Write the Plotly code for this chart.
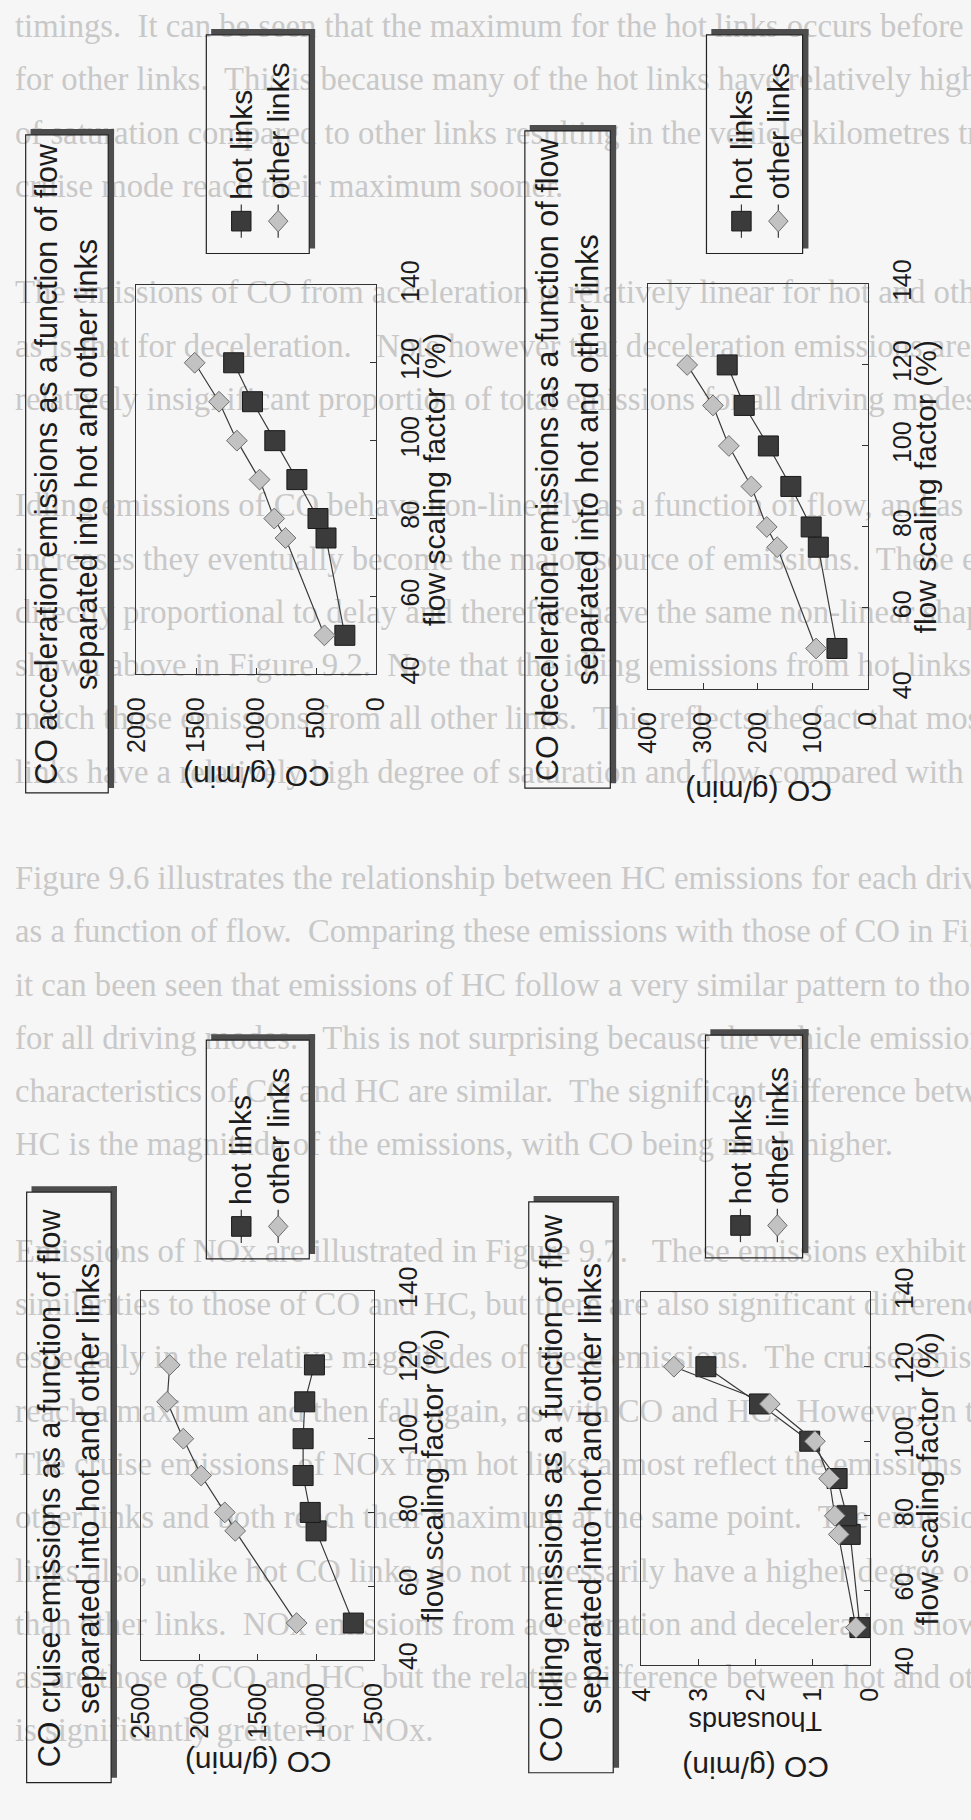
import plotly.graph_objects as go

W, H = 971, 1820

# ---------------- data ----------------
flow = [50, 75, 80, 90, 100, 110, 120]           # flow scaling factor (%)

accel_hot = [262, 419, 486, 662, 846, 1032, 1189]
accel_other = [432, 757, 851, 973, 1162, 1311, 1514]

decel_hot = [56, 90, 103, 140, 181, 225, 256]
decel_other = [94, 165, 184, 212, 253, 282, 329]

cruise_hot = [680, 1000, 1050, 1111, 1111, 1097, 1014]
cruise_other = [1167, 1694, 1783, 1986, 2139, 2278, 2256]

idle_hot = [0.17, 0.34, 0.40, 0.57, 1.05, 1.93, 2.87]      # thousands g/min
idle_other = [0.24, 0.54, 0.61, 0.71, 0.96, 1.75, 3.43]

flow_ticks = [40, 60, 80, 100, 120, 140]
accel_ticks = [0, 500, 1000, 1500, 2000]
decel_ticks = [0, 100, 200, 300, 400]
cruise_ticks = [500, 1000, 1500, 2000, 2500]
idle_ticks = [0, 1, 2, 3, 4]

series_names = ["hot links", "other links"]
subtitle = "separated into hot and other links"

page_lines = [
    "timings.  It can be seen that the maximum for the hot links occurs before that",
    "for other links.  This is because many of the hot links have relatively high degrees",
    "of saturation compared to other links resulting in the vehicle kilometres travelled in",
    "cruise mode reach their maximum sooner.",
    "",
    "The emissions of CO from acceleration is relatively linear for hot and other links,",
    "as is that for deceleration.   Note however that deceleration emissions are a",
    "relatively insignificant proportion of total emissions for all driving modes.",
    "",
    "Idling emissions of CO behave non-linearly as a function of flow, and as flow",
    "increases they eventually become the major source of emissions.  These emissions are",
    "directly proportional to delay and therefore have the same non-linear shape as",
    "shown above in Figure 9.2.  Note that the idling emissions from hot links",
    "match those emissions from all other links.  This reflects the fact that most hot",
    "links have a relatively high degree of saturation and flow compared with other links.",
    "",
    "Figure 9.6 illustrates the relationship between HC emissions for each driving mode",
    "as a function of flow.  Comparing these emissions with those of CO in Figure 9.5",
    "it can been seen that emissions of HC follow a very similar pattern to those of CO",
    "for all driving modes.   This is not surprising because the vehicle emission",
    "characteristics of CO and HC are similar.  The significant difference between CO and",
    "HC is the magnitude of the emissions, with CO being much higher.",
    "",
    "Emissions of NOx are illustrated in Figure 9.7.   These emissions exhibit some",
    "similarities to those of CO and HC, but there are also significant differences,",
    "especially in the relative magnitudes of these emissions.  The cruise emissions do",
    "reach a maximum and then fall again, as with CO and HC.  However, in this case",
    "The cruise emissions of NOx from hot links almost reflect the emissions from",
    "other links and both reach their maximum at the same point.  The emissions from hot",
    "links also, unlike hot CO links, do not necessarily have a higher degree of magnitude",
    "than other links.  NOx emissions from acceleration and deceleration show similar trends",
    "as are those of CO and HC, but the relative difference between hot and other links",
    "is significantly greater for NOx.",
]

# ---------------- layout constants (pixels) ----------------
LINE_Y0, LINE_STEP = 4, 54.3
FONT = "Liberation Sans"
INK = "#1c1c1c"

panels = [
    dict(mode="acceleration", hot=accel_hot, other=accel_other, ticks=accel_ticks,
         rng=[2000, 0], plot=(125, 265, 372, 662), tbox=(11, 112, 96, 783),
         lbox=(197, 10, 303, 233), thousands=False),
    dict(mode="deceleration", hot=decel_hot, other=decel_other, ticks=decel_ticks,
         rng=[400, 0], plot=(652, 264, 878, 677), tbox=(525, 108, 613, 778),
         lbox=(712, 10, 811, 233), thousands=False),
    dict(mode="cruise", hot=cruise_hot, other=cruise_other, ticks=cruise_ticks,
         rng=[2500, 500], plot=(130, 1291, 370, 1667), tbox=(12, 1190, 99, 1792),
         lbox=(197, 1035, 303, 1258), thousands=False),
    dict(mode="idling", hot=idle_hot, other=idle_other, ticks=idle_ticks,
         rng=[4, 0], plot=(645, 1292, 880, 1672), tbox=(529, 1200, 616, 1782),
         lbox=(711, 1030, 811, 1257), thousands=True),
]


def fx(x):
    return x / W


def fy(y):
    return 1 - y / H


fig = go.Figure()

# faint page text behind the charts (drawn in a full-page subplot, first layer)
fig.add_trace(go.Scatter(
    x=[0] * len(page_lines),
    y=[LINE_Y0 + i * LINE_STEP for i in range(len(page_lines))],
    text=page_lines, mode="text", textposition="middle right",
    textfont=dict(family="Liberation Serif", size=32.7, color="#c8c8c8"),
    hoverinfo="skip", showlegend=False, xaxis="x", yaxis="y", cliponaxis=False))

layout = dict(
    width=W, height=H, margin=dict(l=0, r=0, t=0, b=0),
    paper_bgcolor="#f6f6f6", plot_bgcolor="rgba(0,0,0,0)", showlegend=False,
    xaxis=dict(domain=[0, 1], range=[0, W], visible=False, fixedrange=True),
    yaxis=dict(domain=[0, 1], range=[H, 0], visible=False, fixedrange=True),
)

annotations = []
shapes = []

hot_style = dict(symbol="square", size=20, color="#3b3b3b", line=dict(color="#1a1a1a", width=1))
oth_style = dict(symbol="diamond", size=16, color="#c2c2c2", line=dict(color="#6e6e6e", width=1))

for i, p in enumerate(panels):
    n = i + 2
    x0, y0, x1, y1 = p["plot"]
    axis_common = dict(showline=True, mirror=True, linecolor="#333", linewidth=1.2,
                       ticks="inside", ticklen=6, tickcolor="#333", tickwidth=1.2,
                       showgrid=False, zeroline=False, fixedrange=True, tickangle=-90,
                       tickfont=dict(family=FONT, size=25, color=INK), ticklabelstandoff=12)
    layout[f"xaxis{n}"] = dict(domain=[fx(x0), fx(x1)], anchor=f"y{n}", range=p["rng"],
                               tickvals=p["ticks"], ticktext=[str(t) for t in p["ticks"]],
                               **axis_common)
    layout[f"yaxis{n}"] = dict(domain=[fy(y1), fy(y0)], anchor=f"x{n}", side="right",
                               range=[40, 140], tickvals=flow_ticks,
                               ticktext=[str(t) for t in flow_ticks], **axis_common)

    fig.add_trace(go.Scatter(x=p["hot"], y=flow, xaxis=f"x{n}", yaxis=f"y{n}",
                             mode="lines+markers", name=series_names[0],
                             line=dict(color="#3a3a3a", width=1.2), marker=hot_style,
                             cliponaxis=False))
    fig.add_trace(go.Scatter(x=p["other"], y=flow, xaxis=f"x{n}", yaxis=f"y{n}",
                             mode="lines+markers", name=series_names[1],
                             line=dict(color="#3a3a3a", width=1.2), marker=oth_style,
                             cliponaxis=False))

    cx = (x0 + x1) / 2
    cy = (y0 + y1) / 2
    # axis titles
    annotations.append(dict(text="flow scaling factor (%)", x=fx(x1 + 60), y=fy(cy),
                            xref="paper", yref="paper", showarrow=False, textangle=-90,
                            xanchor="center", yanchor="middle",
                            font=dict(family=FONT, size=30, color=INK)))
    annotations.append(dict(text="CO (g/min)", x=fx(cx), y=fy(y1 + 104),
                            xref="paper", yref="paper", showarrow=False, textangle=180,
                            xanchor="center", yanchor="middle",
                            font=dict(family=FONT, size=30, color=INK)))
    if p["thousands"]:
        annotations.append(dict(text="Thousands", x=fx(cx), y=fy(y1 + 58),
                                xref="paper", yref="paper", showarrow=False, textangle=180,
                                xanchor="center", yanchor="middle",
                                font=dict(family=FONT, size=27, color=INK)))

    # title box with shadow
    tx0, ty0, tx1, ty1 = p["tbox"]
    shapes.append(dict(type="rect", xref="paper", yref="paper",
                       x0=fx(tx0 + 5), x1=fx(tx1 + 6), y0=fy(ty0), y1=fy(ty0 - 6),
                       line=dict(width=0), fillcolor="#4d4d4d"))
    shapes.append(dict(type="rect", xref="paper", yref="paper",
                       x0=fx(tx1), x1=fx(tx1 + 6), y0=fy(ty1 - 5), y1=fy(ty0 - 6),
                       line=dict(width=0), fillcolor="#4d4d4d"))
    shapes.append(dict(type="rect", xref="paper", yref="paper",
                       x0=fx(tx0), x1=fx(tx1), y0=fy(ty1), y1=fy(ty0),
                       line=dict(color="#222", width=1.2), fillcolor="rgba(0,0,0,0)"))
    annotations.append(dict(text=f"CO {p['mode']} emissions as a function of flow<br>{subtitle}",
                            x=fx((tx0 + tx1) / 2), y=fy((ty0 + ty1) / 2),
                            xref="paper", yref="paper", showarrow=False, textangle=-90,
                            xanchor="center", yanchor="middle", align="center",
                            font=dict(family=FONT, size=30.5, color=INK)))

    # legend box with shadow
    lx0, ly0, lx1, ly1 = p["lbox"]
    shapes.append(dict(type="rect", xref="paper", yref="paper",
                       x0=fx(lx0 + 5), x1=fx(lx1 + 6), y0=fy(ly0), y1=fy(ly0 - 6),
                       line=dict(width=0), fillcolor="#4d4d4d"))
    shapes.append(dict(type="rect", xref="paper", yref="paper",
                       x0=fx(lx1), x1=fx(lx1 + 6), y0=fy(ly1 - 5), y1=fy(ly0 - 6),
                       line=dict(width=0), fillcolor="#4d4d4d"))
    shapes.append(dict(type="rect", xref="paper", yref="paper",
                       x0=fx(lx0), x1=fx(lx1), y0=fy(ly1), y1=fy(ly0),
                       line=dict(color="#222", width=1.2), fillcolor="rgba(0,0,0,0)"))
    my = ly1 - 33
    for k, name in enumerate(series_names):
        ix = lx0 + 36 + k * 38
        shapes.append(dict(type="line", xref="paper", yref="paper",
                           x0=fx(ix), x1=fx(ix), y0=fy(my + 17), y1=fy(my - 17),
                           line=dict(color="#3a3a3a", width=1.2)))
        if k == 0:
            shapes.append(dict(type="rect", xref="paper", yref="paper",
                               x0=fx(ix - 10), x1=fx(ix + 10), y0=fy(my + 10), y1=fy(my - 10),
                               line=dict(color="#1a1a1a", width=1), fillcolor="#3b3b3b"))
        else:
            path = (f"M {fx(ix)} {fy(my - 11)} L {fx(ix + 10)} {fy(my)} "
                    f"L {fx(ix)} {fy(my + 11)} L {fx(ix - 10)} {fy(my)} Z")
            shapes.append(dict(type="path", xref="paper", yref="paper", path=path,
                               line=dict(color="#6e6e6e", width=1), fillcolor="#c2c2c2"))
        annotations.append(dict(text=name, x=fx(ix), y=fy(my - 20),
                                xref="paper", yref="paper", showarrow=False, textangle=-90,
                                xanchor="center", yanchor="bottom",
                                font=dict(family=FONT, size=30, color=INK)))

layout["annotations"] = annotations
layout["shapes"] = shapes
fig.update_layout(**layout)
fig.write_html("out.html")
